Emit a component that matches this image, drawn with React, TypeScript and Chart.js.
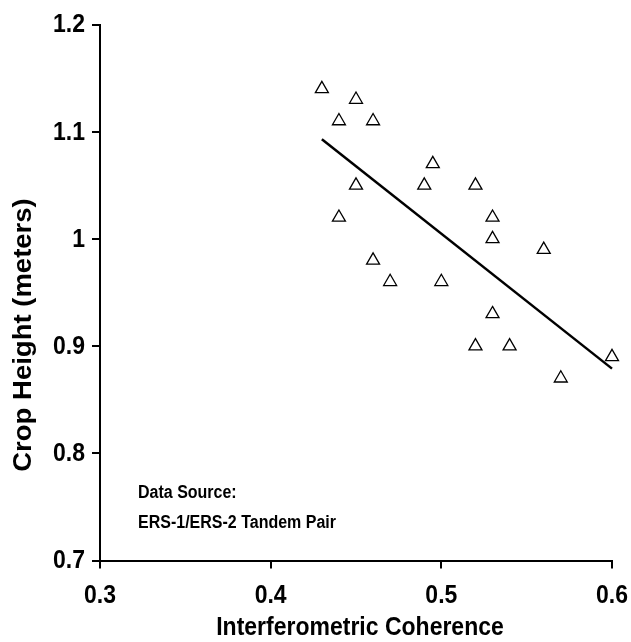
import React, { useEffect, useRef } from 'react';
import { Chart, registerables } from 'chart.js';

Chart.register(...registerables);

const coherence = [0.43, 0.45, 0.44, 0.46, 0.495, 0.45, 0.49, 0.52, 0.44, 0.53, 0.53, 0.56, 0.46, 0.47, 0.5, 0.53, 0.52, 0.54, 0.6, 0.57];
const cropHeight = [1.14, 1.13, 1.11, 1.11, 1.07, 1.05, 1.05, 1.05, 1.02, 1.02, 1.0, 0.99, 0.98, 0.96, 0.96, 0.93, 0.9, 0.9, 0.89, 0.87];
const trendX = [0.43, 0.6];
const trendY = [1.093, 0.879];
const xTicks = [0.3, 0.4, 0.5, 0.6];
const xTickLabels = ['0.3', '0.4', '0.5', '0.6'];
const yTicks = [0.7, 0.8, 0.9, 1.0, 1.1, 1.2];
const yTickLabels = ['0.7', '0.8', '0.9', '1', '1.1', '1.2'];
const noteLines = ['Data Source:', 'ERS-1/ERS-2 Tandem Pair'];
const xTitle = 'Interferometric Coherence';
const yTitle = 'Crop Height (meters)';

const FONT = '"Liberation Sans", Arial, Helvetica, sans-serif';
const STRETCH = 1.1;

function drawText(ctx: any, text: string, px: number, py: number, size: number, align: string, rotated = false) {
  ctx.save();
  ctx.translate(px, py);
  if (rotated) {
    ctx.rotate(-Math.PI / 2);
    ctx.scale(STRETCH, 1);
  } else {
    ctx.scale(1, STRETCH);
  }
  ctx.font = `bold ${size}px ${FONT}`;
  ctx.fillStyle = '#000';
  ctx.textAlign = align;
  ctx.textBaseline = 'middle';
  ctx.fillText(text, 0, 0);
  ctx.restore();
}

const textPlugin = {
  id: 'texts',
  afterDraw(chart: any) {
    const { ctx, chartArea, scales } = chart;
    const xs = scales.x;
    const ys = scales.y;
    xTicks.forEach((v, i) => drawText(ctx, xTickLabels[i], xs.getPixelForValue(v), chartArea.bottom + 36, 23, 'center'));
    yTicks.forEach((v, i) => drawText(ctx, yTickLabels[i], chartArea.left - 15, ys.getPixelForValue(v) + 1, 23, 'right'));
    drawText(ctx, xTitle, 360, chartArea.bottom + 68, 23, 'center');
    drawText(ctx, yTitle, 24, 335, 25, 'center', true);
    drawText(ctx, noteLines[0], chartArea.left + 38, chartArea.bottom - 67, 16, 'left');
    drawText(ctx, noteLines[1], chartArea.left + 38, chartArea.bottom - 37, 16, 'left');
  },
};

export default function App() {
  const ref = useRef<HTMLCanvasElement | null>(null);
  useEffect(() => {
    if (!ref.current) return;
    const chart = new Chart(ref.current, {
      type: 'scatter',
      data: {
        datasets: [
          {
            type: 'scatter',
            data: coherence.map((x, i) => ({ x, y: cropHeight[i] })),
            pointStyle: 'triangle',
            pointRadius: 7.5,
            pointBackgroundColor: '#fff',
            pointBorderColor: '#000',
            pointBorderWidth: 1.3,
            clip: false,
          } as any,
          {
            type: 'line',
            data: trendX.map((x, i) => ({ x, y: trendY[i] })),
            borderColor: '#000',
            borderWidth: 2.5,
            pointRadius: 0,
            fill: false,
            clip: false,
          } as any,
        ],
      },
      options: {
        responsive: false,
        animation: false,
        layout: { padding: { top: 24.5, right: 19, left: 0, bottom: 0 } },
        plugins: { legend: { display: false }, tooltip: { enabled: false } },
        scales: {
          x: {
            type: 'linear',
            min: 0.3,
            max: 0.6,
            afterBuildTicks: (s: any) => { s.ticks = xTicks.map((v) => ({ value: v })); },
            afterFit: (s: any) => { s.height = 81.5; },
            ticks: { display: false },
            grid: { display: true, drawOnChartArea: false, drawTicks: true, tickLength: 8, color: '#000', lineWidth: 2 },
            border: { display: true, color: '#000', width: 2 },
            title: { display: false, text: xTitle },
          },
          y: {
            type: 'linear',
            min: 0.7,
            max: 1.2,
            afterBuildTicks: (s: any) => { s.ticks = yTicks.map((v) => ({ value: v })); },
            afterFit: (s: any) => { s.width = 100; },
            ticks: { display: false },
            grid: { display: true, drawOnChartArea: false, drawTicks: true, tickLength: 8, color: '#000', lineWidth: 2 },
            border: { display: true, color: '#000', width: 2 },
            title: { display: false, text: yTitle },
          },
        },
      },
      plugins: [textPlugin],
    });
    return () => chart.destroy();
  }, []);
  return (
    <div style={{ position: 'absolute', left: 0, top: 0, width: 631, height: 642, background: '#fff' }}>
      <canvas ref={ref} width={631} height={642} style={{ width: 631, height: 642 }} />
    </div>
  );
}
